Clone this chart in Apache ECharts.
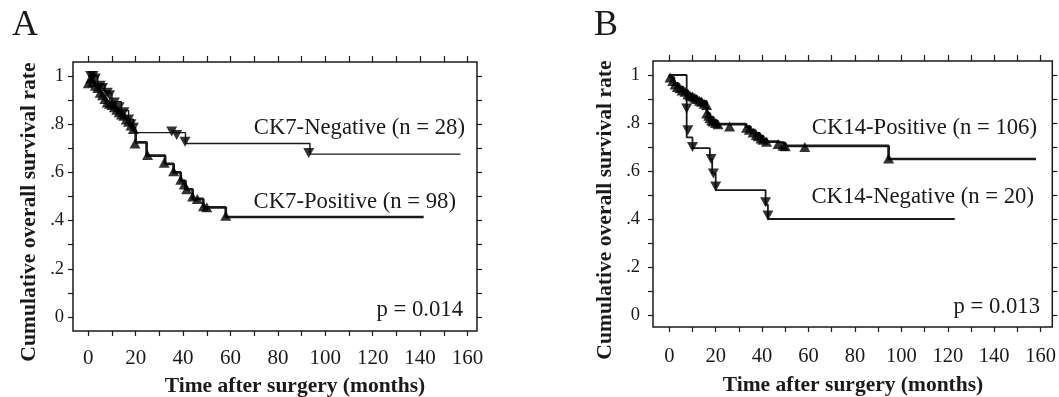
<!DOCTYPE html>
<html>
<head>
<meta charset="utf-8">
<script src="https://cdn.jsdelivr.net/npm/echarts@6/dist/echarts.min.js"></script>
<style>
html,body{margin:0;padding:0;background:#fff;}
#c{width:1059px;height:397px;}
</style>
</head>
<body>
<div id="c"></div>
<script>
// ---------- data ----------
const xLabelValues = [0,20,40,60,80,100,120,140,160];
const xTickValues = [0,10,20,30,40,50,60,70,80,90,100,110,120,130,140,150,160];
const yLabelValues = [0,0.2,0.4,0.6,0.8,1];
const yLabelTexts = ['0','.2','.4','.6','.8','1'];
const yTickValues = [0,0.1,0.2,0.3,0.4,0.5,0.6,0.7,0.8,0.9,1];

// Panel A : CK7
const aNegLine = [[0,1.0],[4,0.964],[7,0.929],[10,0.893],[14,0.857],[17,0.821],[19,0.786],[20,0.765],[41,0.72],[93.5,0.676],[157,0.676]];
const aNegCensor = [[1,1.0],[2,1.0],[3,0.99],[5,0.96],[6,0.95],[8,0.93],[9,0.92],[11,0.89],[13,0.87],[15,0.85],[17,0.82],[18,0.8],[19,0.785],[35.2,0.77],[37.3,0.755],[40.8,0.727],[93,0.68]];
const aPosLine = [[0,1.0],[1,0.98],[2,0.97],[3,0.96],[4,0.94],[5,0.93],[6,0.92],[7,0.9],[8,0.89],[10,0.88],[11,0.87],[12,0.86],[13,0.85],[14,0.84],[15,0.83],[16,0.82],[17,0.8],[18,0.79],[19,0.775],[20,0.725],[24.6,0.67],[32.4,0.635],[36,0.6],[39,0.565],[41,0.53],[44,0.49],[48.5,0.455],[58,0.415],[141.5,0.415]];
const aPosCensor = [[0,0.97],[1,0.99],[2,0.975],[3,0.96],[4,0.95],[5,0.93],[6,0.92],[7,0.905],[8,0.89],[9,0.885],[10,0.88],[11,0.87],[12,0.86],[13,0.85],[14,0.84],[15,0.835],[16,0.82],[17,0.81],[18,0.795],[19,0.78],[19.7,0.72],[25,0.672],[32,0.64],[36,0.605],[39,0.57],[40.5,0.55],[41.5,0.53],[44,0.5],[46,0.49],[48.6,0.46],[50,0.455],[58,0.42]];

// Panel B : CK14
const bPosLine = [[0,1.0],[0.5,0.99],[2,0.965],[4,0.95],[6,0.935],[8,0.92],[10,0.91],[12,0.9],[14,0.89],[16,0.87],[16.5,0.84],[17.5,0.825],[19,0.81],[20.5,0.795],[33,0.785],[35,0.77],[37,0.757],[39,0.745],[40.5,0.733],[42,0.722],[47,0.715],[50,0.705],[94.5,0.65],[158,0.65]];
const bPosCensor = [[0.3,0.99],[1.5,0.975],[2.5,0.96],[3.5,0.95],[4.6,0.945],[5.5,0.935],[6.8,0.93],[8,0.92],[8.9,0.915],[10,0.91],[11,0.905],[11.8,0.9],[13,0.893],[13.9,0.888],[15,0.88],[16.1,0.875],[16.1,0.84],[17,0.83],[17.5,0.82],[18.3,0.81],[18.9,0.806],[20,0.8],[21,0.795],[26,0.785],[33.3,0.78],[34.5,0.772],[36.1,0.76],[37.5,0.75],[38.3,0.745],[39.5,0.735],[40.4,0.73],[41.9,0.722],[46.9,0.712],[49,0.705],[50,0.703],[58.4,0.7],[94.5,0.652]];
const bNegLine = [[0,1.0],[7.5,0.74],[10,0.695],[17.5,0.65],[18.5,0.59],[20,0.52],[41.5,0.46],[42.5,0.40],[123,0.40]];
const bNegCensor = [[7.5,0.86],[8,0.77],[10,0.70],[18,0.65],[19,0.59],[20,0.535],[41.5,0.47],[42.5,0.415]];

// ---------- layout ----------
const FONT = '"Liberation Serif","Times New Roman",serif';
const INK = '#1a1a1a';
const panels = [
  {grid:{left:73,top:62,width:404,height:269}, x:[-6.456,164.0], y:[-0.0581,1.0581], xFont:21, yFont:18.5, xMargin:17, yMargin:9},
  {grid:{left:653,top:61,width:400,height:266}, x:[-7.011,165.03], y:[-0.05,1.0583], xFont:20.5, yFont:18.5, xMargin:19, yMargin:13}
];

const grids = [], xAxes = [], yAxes = [];
function yFmt(v){ for (let i=0;i<yLabelValues.length;i++) if (Math.abs(yLabelValues[i]-v)<1e-6) return yLabelTexts[i]; return ''; }
const tickStyle = {color:INK, width:1.2};
const noLine = {show:false, onZero:false};

panels.forEach((p, gi) => {
  grids.push(Object.assign({show:true, borderColor:INK, borderWidth:1.5, backgroundColor:'transparent', containLabel:false}, p.grid));
  xAxes.push({gridIndex:gi, type:'value', position:'bottom', min:p.x[0], max:p.x[1],
    axisLine:noLine, splitLine:{show:false},
    axisTick:{show:true, length:5, customValues:xTickValues, lineStyle:tickStyle},
    axisLabel:{show:true, customValues:xLabelValues, fontFamily:FONT, fontSize:p.xFont, color:INK, margin:p.xMargin}});
  xAxes.push({gridIndex:gi, type:'value', position:'top', min:p.x[0], max:p.x[1],
    axisLine:noLine, splitLine:{show:false}, axisLabel:{show:false},
    axisTick:{show:true, length:6, customValues:xTickValues, lineStyle:tickStyle}});
  yAxes.push({gridIndex:gi, type:'value', position:'left', min:p.y[0], max:p.y[1],
    axisLine:noLine, splitLine:{show:false},
    axisTick:{show:true, length:5, customValues:yTickValues, lineStyle:tickStyle},
    axisLabel:{show:true, customValues:yLabelValues, formatter:yFmt, fontFamily:FONT, fontSize:p.yFont, color:INK, margin:p.yMargin}});
  yAxes.push({gridIndex:gi, type:'value', position:'right', min:p.y[0], max:p.y[1],
    axisLine:noLine, splitLine:{show:false}, axisLabel:{show:false},
    axisTick:{show:true, length:5, customValues:yTickValues, lineStyle:tickStyle}});
});

function stepLine(data, gi, w){
  return {type:'line', step:'end', data, xAxisIndex:gi*2, yAxisIndex:gi*2, symbol:'none',
    lineStyle:{color:INK, width:w}, z:4, silent:true, animation:false};
}
function marks(data, gi, down){
  return {type:'scatter', data, xAxisIndex:gi*2, yAxisIndex:gi*2, symbol:'triangle', symbolSize:[11,10],
    symbolRotate: down ? 180 : 0, itemStyle:{color:'#000'}, z:5, silent:true, animation:false};
}

const series = [
  stepLine(aNegLine, 0, 1.4), marks(aNegCensor, 0, true),
  stepLine(aPosLine, 0, 2.7), marks(aPosCensor, 0, false),
  stepLine(bPosLine, 1, 2.7), marks(bPosCensor, 1, false),
  stepLine(bNegLine, 1, 1.8), marks(bNegCensor, 1, true)
];

function txt(text, x, y, size, align, opts){
  return Object.assign({type:'text', x, y, z:10, style:{text, font:(opts&&opts.bold?'bold ':'')+size+'px '+FONT,
    fill:INK, textAlign:align, textVerticalAlign:'middle'}}, opts && opts.rotation ? {rotation:opts.rotation} : {});
}

const graphic = [
  txt('A', 12, 26, 36, 'left'),
  txt('B', 594, 26, 36, 'left'),
  txt('Cumulative overall survival rate', 29, 212, 21.6, 'center', {bold:true, rotation:Math.PI/2}),
  txt('Cumulative overall survival rate', 605, 210, 21.6, 'center', {bold:true, rotation:Math.PI/2}),
  txt('Time after surgery (months)', 295, 386, 21.5, 'center', {bold:true}),
  txt('Time after surgery (months)', 853, 385, 21.5, 'center', {bold:true}),
  txt('CK7-Negative (n = 28)', 465, 128, 22.7, 'right'),
  txt('CK7-Positive (n = 98)', 456, 202, 22.7, 'right'),
  txt('p = 0.014', 463, 310, 22.7, 'right'),
  txt('CK14-Positive (n = 106)', 1037, 128, 22.7, 'right'),
  txt('CK14-Negative (n = 20)', 1034, 197, 22.7, 'right'),
  txt('p = 0.013', 1040, 307, 22.7, 'right')
];

const chart = echarts.init(document.getElementById('c'), null, {renderer:'canvas'});
chart.setOption({
  animation:false,
  backgroundColor:'#fff',
  grid:grids, xAxis:xAxes, yAxis:yAxes, series, graphic
});
</script>
</body>
</html>
